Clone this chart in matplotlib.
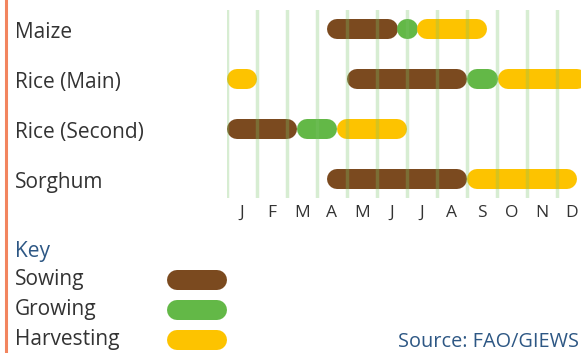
import matplotlib
matplotlib.use("Agg")
import matplotlib.pyplot as plt
from matplotlib.lines import Line2D
from matplotlib.transforms import blended_transform_factory, offset_copy

# crop calendar data (months: 0 = start of Jan, 12 = end of Dec)
crops = ["Maize", "Rice (Main)", "Rice (Second)", "Sorghum"]
months = ["J", "F", "M", "A", "M", "J", "J", "A", "S", "O", "N", "D"]

sowing = [[(3.33, 5.7)], [(4.0, 8.0)], [(0.0, 2.33)], [(3.33, 8.0)]]
growing = [[(5.7, 6.33)], [(8.0, 9.03)], [(2.33, 3.67)], []]
harvesting = [[(6.33, 8.67)], [(0.0, 1.0), (9.03, 12.0)], [(3.67, 6.0)], [(8.0, 11.67)]]

stages = ["Sowing", "Growing", "Harvesting"]
stage_data = [sowing, growing, harvesting]
stage_colors = ["#7b4a1f", "#63b847", "#fdc300"]

W, H, DPI = 581, 353, 100
text_col = "#333333"
blue = "#2d5784"
plt.rcParams['font.family'] = ['Open Sans', 'DejaVu Sans']

fig = plt.figure(figsize=(W / DPI, H / DPI), dpi=DPI)

# chart axes in pixel placement: x 227..587, y 10..198 from top
ax_l, ax_r, ax_t, ax_b = 227, 587, 10, 198
ax = fig.add_axes([ax_l / W, 1 - ax_b / H, (ax_r - ax_l) / W, (ax_b - ax_t) / H])
ax.set_xlim(0, 12)
ax.set_ylim(3.38, -0.38)
for s in ax.spines.values():
    s.set_visible(False)
ax.set_yticks([])

bar_px = 20
lw = bar_px * 72 / DPI
inset = (bar_px / 2) / ((ax_r - ax_l) / 12)

for segs_by_crop, col in zip(stage_data, stage_colors):
    for row, segs in enumerate(segs_by_crop):
        for a, b in segs:
            x0, x1 = a + inset, b - inset
            if x1 <= x0:
                mid = (a + b) / 2
                x0, x1 = mid - 0.005, mid + 0.005
            ax.plot([x0, x1], [row, row], color=col, lw=lw,
                    solid_capstyle="round", zorder=2)

for m in range(12):
    ax.axvline(m, color="#7cc46a", alpha=0.3, lw=2.5, zorder=3)

ax.set_xticks([m + 0.5 for m in range(12)])
ax.set_xticklabels(months, fontsize=12.5, color=text_col)
ax.tick_params(axis="x", length=0, pad=5)

# row labels, baseline ~9 px under the bar centre
tr = blended_transform_factory(fig.transFigure, ax.transData)
tr = offset_copy(tr, fig=fig, x=0, y=-9, units="dots")
for row, name in enumerate(crops):
    ax.text(15 / W, row, name, transform=tr, ha="left", va="baseline",
            fontsize=15, color=text_col)

# left border
fig.add_artist(Line2D([5.5 / W, 5.5 / W], [0, 1], color="#f2855f", lw=2.2))

# key
fig.text(15 / W, 1 - 257 / H, "Key", fontsize=15, color=blue, ha="left", va="baseline")
for i, (name, col) in enumerate(zip(stages, stage_colors)):
    yk = 1 - (280 + 30 * i) / H
    yb = 1 - (285 + 30 * i) / H
    fig.text(15 / W, yb, name, fontsize=15, color=text_col, ha="left", va="baseline")
    fig.add_artist(Line2D([177 / W, 217 / W], [yk, yk], color=col, lw=lw,
                          solid_capstyle="round"))

fig.text(398 / W, 1 - 347 / H, "Source: FAO/GIEWS", fontsize=14.3, color=blue,
         ha="left", va="baseline")

fig.savefig("out.png", dpi=DPI)
